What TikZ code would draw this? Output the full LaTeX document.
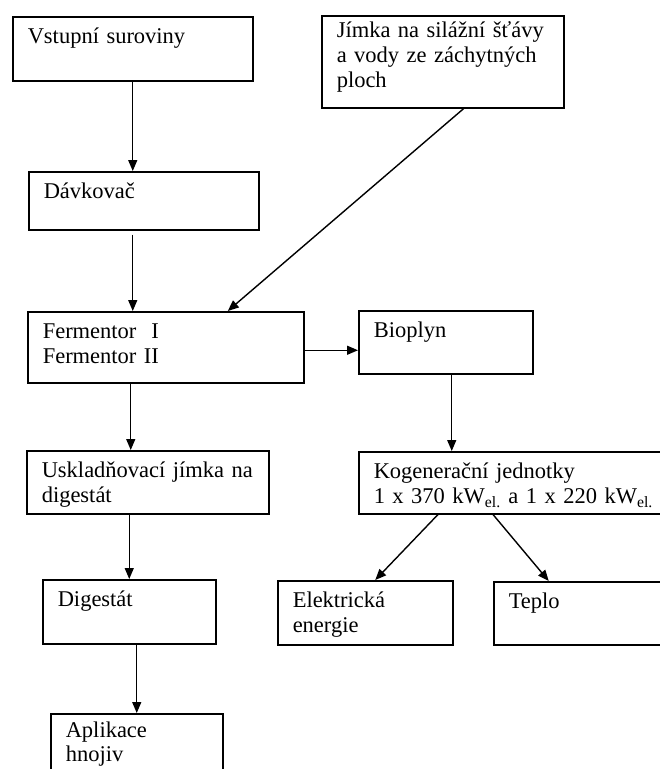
\documentclass[tikz,border=0pt]{standalone}
\usepackage{fontspec}
\setmainfont{Liberation Serif}
\usepackage{tikz}
\usetikzlibrary{arrows.meta}

\tikzset{
  blok/.style={draw, line width=1.5pt, anchor=north west, align=left,
    inner xsep=15pt, inner ysep=0pt, text height=27pt},
  sipka/.style={line width=1.4pt, -{Triangle[length=11pt,width=9pt]}}
}

\begin{document}
\begin{tikzpicture}[x=1pt, y=-1pt, font=\fontsize{22.5}{25}\selectfont]
        \clip (0,0) rectangle (660,769); % picture frame
        % left column
        \node[blok, text width=210pt, text depth=37pt] (vstup) at (12,16) {Vstupní suroviny};
        \node[blok, text width=200pt, text depth=31pt] (davk) at (28,171) {Dávkovač};
        \node[blok, text width=246pt, text depth=44pt] (ferm) at (27,311) {Fermentor\ \ I\\Fermentor II};
        \node[blok, text width=212pt, text depth=36pt] (uskl) at (26,450) {Uskladňovací jímka na\\digestát};
        \node[blok, text width=143pt, text depth=37pt] (digest) at (42,579) {Digestát};
        \node[blok, text width=142pt, text height=24pt, text depth=56pt,
          font=\fontsize{22.5}{23.5}\selectfont] (aplik) at (50,713) {Aplikace\\hnojiv};
        % right column
        \node[blok, text width=212pt, text height=22pt, text depth=70pt] (jimka) at (321,15)
          {Jímka na silážní šťávy\\a vody ze záchytných\\ploch};
        \node[blok, text width=144pt, text depth=36pt] (bio) at (358,310) {Bioplyn};
        \node[blok, text width=292pt, text depth=35pt] (kogen) at (358,451)
          {Kogenerační jednotky\\1 x 370 kW\textsubscript{el.} a 1 x 220 kW\textsubscript{el.}};
        \node[blok, text width=145pt, text depth=37pt] (elek) at (277,580) {Elektrická\\energie};
        \node[blok, text width=160pt, text depth=36pt] (teplo) at (493,581) {Teplo};
        % arrows
        \draw[sipka] (vstup.south) -- (vstup.south |- davk.north);
        \draw[sipka] ([yshift=-4pt]davk.south -| vstup.south) -- (vstup.south |- ferm.north);
        \draw[sipka] ([xshift=21pt]jimka.south) -- ([xshift=62pt]ferm.north);
        \draw[sipka] ([yshift=-3pt]ferm.east) -- ([yshift=-3pt]ferm.east -| bio.west);
        \draw[sipka] ([xshift=-35pt]ferm.south) -- ([xshift=-35pt]ferm.south |- uskl.north);
        \draw[sipka] (digest.north |- uskl.south) -- (digest.north);
        \draw[sipka] (aplik.north |- digest.south) -- (aplik.north);
        \draw[sipka] ([xshift=6pt]bio.south) -- ([xshift=6pt]bio.south |- kogen.north);
        \draw[sipka] ([xshift=80pt]kogen.south west) -- ([xshift=10pt]elek.north);
        \draw[sipka] ([xshift=135pt]kogen.south west) -- ([xshift=-40pt]teplo.north);
\end{tikzpicture}
\end{document}
